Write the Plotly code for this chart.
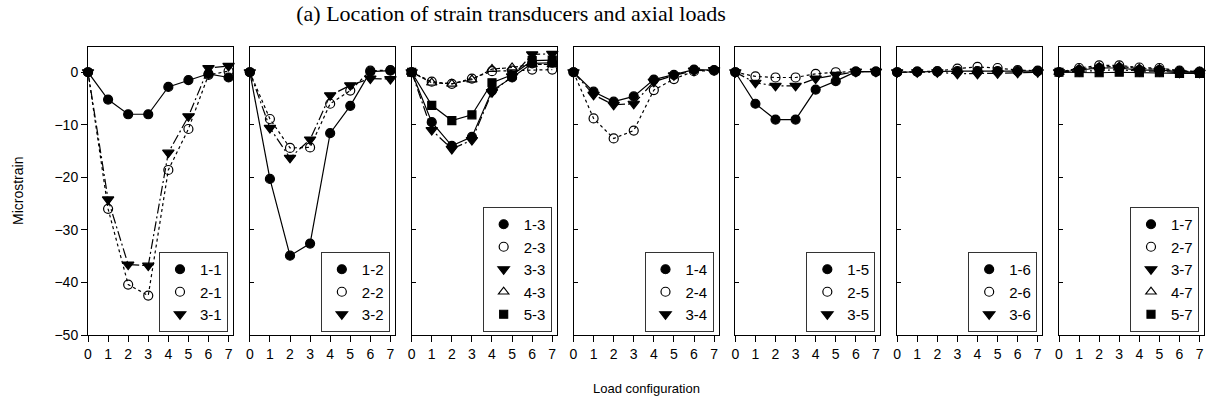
import plotly.graph_objects as go

# Load configurations 0..7 on the x axis
load_config = [0, 1, 2, 3, 4, 5, 6, 7]

# Microstrain readings per transducer column (panel) and row (series)
col1 = {
    "1-1": [0, -5.2, -8.0, -8.0, -2.8, -1.5, -0.3, -1.0],
    "2-1": [0, -26.0, -40.4, -42.5, -18.6, -10.8, -0.5, 0.2],
    "3-1": [0, -24.2, -36.6, -36.8, -15.3, -8.4, 0.8, 1.2],
}
col2 = {
    "1-2": [0, -20.3, -34.9, -32.6, -11.6, -6.4, 0.1, 0.3],
    "2-2": [0, -8.9, -14.4, -14.3, -6.0, -3.5, 0.3, 0.4],
    "3-2": [0, -10.6, -16.3, -12.8, -4.4, -2.5, -1.2, -1.3],
}
col3 = {
    "1-3": [0, -9.5, -14.0, -12.3, -3.5, -1.0, 1.7, 1.8],
    "2-3": [0, -1.8, -2.2, -1.2, 0.2, 0.3, 0.5, 0.5],
    "3-3": [0, -11.0, -14.6, -12.9, -3.8, -0.8, 3.4, 3.5],
    "4-3": [0, -2.0, -2.2, -1.4, 0.6, 0.9, 1.5, 1.5],
    "5-3": [0, -6.3, -9.2, -8.1, -2.0, -0.5, 2.2, 2.3],
}
col4 = {
    "1-4": [0, -3.7, -5.6, -4.6, -1.4, -0.5, 0.5, 0.4],
    "2-4": [0, -8.8, -12.6, -11.1, -3.4, -1.3, 0.2, 0.3],
    "3-4": [0, -4.3, -6.2, -6.0, -1.8, -0.6, 0.3, 0.4],
}
col5 = {
    "1-5": [0, -6.0, -9.0, -9.0, -3.3, -1.7, 0.1, 0.1],
    "2-5": [0, -0.8, -1.0, -1.0, -0.3, 0.0, 0.1, 0.1],
    "3-5": [0, -2.0, -2.6, -2.6, -1.2, -0.5, 0.1, 0.1],
}
col6 = {
    "1-6": [0, 0.1, 0.1, 0.2, 0.2, 0.2, 0.2, 0.2],
    "2-6": [0, 0.1, 0.2, 0.7, 1.0, 0.8, 0.4, 0.3],
    "3-6": [0, 0.0, 0.0, -0.3, -0.3, -0.2, -0.1, 0.0],
}
col7 = {
    "1-7": [0, 0.4, 0.8, 0.8, 0.4, 0.4, 0.1, 0.0],
    "2-7": [0, 0.8, 1.3, 1.3, 0.9, 0.8, 0.3, 0.1],
    "3-7": [0, 0.2, 0.4, 0.5, 0.2, 0.2, -0.1, -0.1],
    "4-7": [0, 0.6, 1.0, 1.1, 0.7, 0.6, 0.2, 0.1],
    "5-7": [0, -0.1, -0.1, 0.0, -0.1, -0.1, -0.2, -0.2],
}
columns = [col1, col2, col3, col4, col5, col6, col7]

y_ticks = [0, -10, -20, -30, -40, -50]

# Row style: marker symbol, size, line dash
row_style = {
    "1": ("circle", 9, "solid"),
    "2": ("circle-open", 9, "dot"),
    "3": ("triangle-down", 10, "10px,3px,2px,3px"),
    "4": ("triangle-up-open", 9, "4px,2px"),
    "5": ("square", 8, "solid"),
}

W, H = 1212, 412
ML, MR, MT, MB = 88, 8, 47, 77
plot_w = W - ML - MR
plot_h = H - MT - MB
panel_w = 145.0
gap = (plot_w - 7 * panel_w) / 6.0

fig = go.Figure()
font_axis = dict(family="Liberation Sans, Arial, sans-serif", size=14, color="black")

for i, col in enumerate(columns):
    k = i + 1
    xa = "x" if k == 1 else f"x{k}"
    ya = "y" if k == 1 else f"y{k}"
    leg = "legend" if k == 1 else f"legend{k}"
    for name, vals in col.items():
        sym, size, dash = row_style[name.split("-")[0]]
        marker = dict(symbol=sym, size=size, color="black",
                      line=dict(color="black", width=1.2))
        # data line with markers
        fig.add_trace(go.Scatter(
            x=load_config, y=vals, name=name, mode="lines+markers",
            xaxis=xa, yaxis=ya, showlegend=False, cliponaxis=False,
            line=dict(color="black", width=1.2, dash=dash),
            marker=marker,
        ))
        # marker-only key entry for the panel legend
        fig.add_trace(go.Scatter(
            x=[None], y=[None], name=name, mode="markers",
            xaxis=xa, yaxis=ya, legend=leg, showlegend=True,
            marker=marker,
        ))

    left = i * (panel_w + gap) / plot_w
    right = (i * (panel_w + gap) + panel_w) / plot_w
    xkey = "xaxis" if k == 1 else f"xaxis{k}"
    ykey = "yaxis" if k == 1 else f"yaxis{k}"
    fig.layout[xkey] = dict(
        domain=[left, right], range=[0, 7.22], anchor=ya,
        tickvals=load_config, ticks="outside", ticklen=6, tickwidth=1,
        tickcolor="black", showline=True, mirror=True, linecolor="black",
        linewidth=1, showgrid=False, zeroline=False, tickfont=font_axis,
    )
    fig.layout[ykey] = dict(
        domain=[0, 1], range=[-50, 4.8], anchor=xa,
        tickvals=y_ticks, ticks="outside" if k == 1 else "inside",
        ticklen=6 if k == 1 else 4, tickwidth=1, tickcolor="black",
        showticklabels=(k == 1), showline=True, mirror=True,
        linecolor="black", linewidth=1, showgrid=False, zeroline=False,
        tickfont=font_axis,
    )
    fig.layout[leg] = dict(
        xref="paper", yref="paper", x=right - 5 / plot_w, xanchor="right",
        y=3 / plot_h, yanchor="bottom",
        bgcolor="white", bordercolor="#333333", borderwidth=1,
        font=dict(family="Liberation Sans, Arial, sans-serif", size=15, color="black"),
        itemwidth=30, tracegroupgap=0,
    )

fig.update_layout(
    width=W, height=H,
    margin=dict(l=ML, r=MR, t=MT, b=MB),
    paper_bgcolor="white", plot_bgcolor="white",
    showlegend=True,
    title=dict(
        text="(a) Location of strain transducers and axial loads",
        x=511 / W, xref="container", xanchor="center",
        y=1 - 13 / H, yref="container", yanchor="middle",
        font=dict(family="Liberation Serif, Times New Roman, serif", size=22, color="black"),
    ),
    annotations=[
        dict(text="Load configuration", xref="paper", yref="paper",
             x=0.5, y=-(388 - (H - MB)) / plot_h, xanchor="center",
             yanchor="middle", showarrow=False,
             font=dict(family="Liberation Sans, Arial, sans-serif", size=13, color="black")),
        dict(text="Microstrain", xref="paper", yref="paper",
             x=-(ML - 18) / plot_w, y=0.5, xanchor="center", yanchor="middle",
             textangle=-90, showarrow=False,
             font=dict(family="Liberation Sans, Arial, sans-serif", size=14, color="black")),
    ],
)

fig.write_html("out.html")
